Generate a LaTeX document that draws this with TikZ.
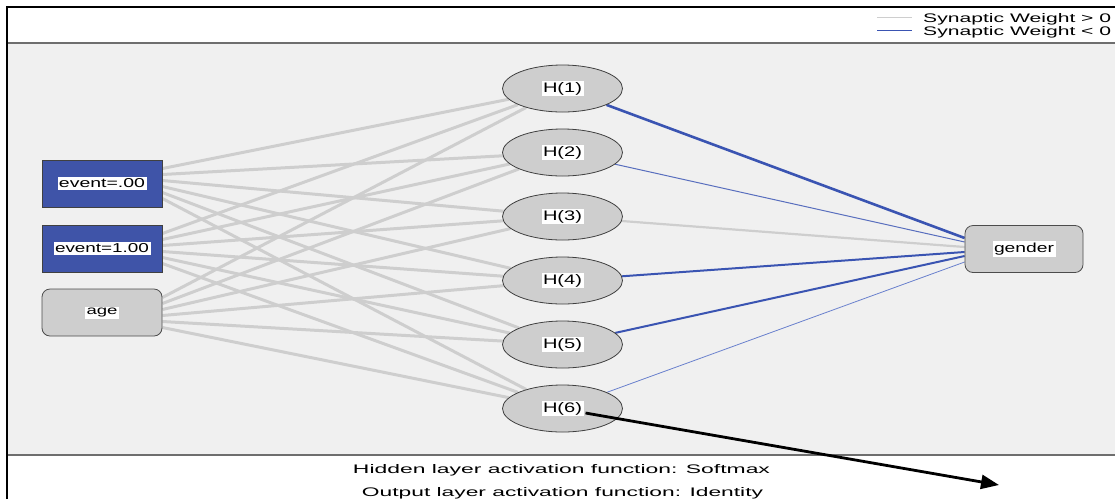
\documentclass[tikz,border=0pt]{standalone}
\usepackage{fontspec}
\setmainfont{Liberation Sans}
\usepackage{graphicx}
\usetikzlibrary{calc,arrows.meta,shapes.geometric}
\definecolor{posw}{RGB}{206,206,206}
\definecolor{negw}{RGB}{58,84,178}
\definecolor{negl}{RGB}{105,128,205}
\definecolor{inblue}{RGB}{63,84,168}
\definecolor{nodegray}{RGB}{206,206,206}
\definecolor{panelgray}{RGB}{240,240,240}
\definecolor{rulegray}{RGB}{110,110,110}
\newcommand\fitt[3]{\resizebox{#1pt}{#2pt}{#3}}
\newcommand\lbl[3]{{\setlength\fboxsep{1.5pt}\colorbox{white}{\fitt{#1}{#2}{#3}}}}
\pgfdeclarelayer{panel}
\pgfdeclarelayer{wires}
\pgfsetlayers{panel,wires,main}
\begin{document}
\begin{tikzpicture}[x=1pt,y=-1pt,
  inbox/.style={draw=black!75,line width=0.8pt,fill=inblue,minimum width=120pt,minimum height=47pt,inner sep=0pt},
  agebox/.style={draw=black!70,line width=0.8pt,fill=nodegray,rounded corners=8pt,minimum width=120pt,minimum height=47pt,inner sep=0pt},
  hid/.style={ellipse,draw=black!75,line width=0.8pt,fill=nodegray,minimum width=120pt,minimum height=47pt,inner sep=0pt},
  posline/.style={draw=posw,line width=3pt},
  negthick/.style={draw=negw,line width=2.6pt},
  negmid/.style={draw=negw,line width=2pt},
  negthin/.style={draw=negw!85,line width=1pt},
  neglight/.style={draw=negl,line width=0.8pt},
  poshid/.style={draw=posw,line width=2.2pt},
  txt/.style={inner sep=0pt,font=\normalsize}
]
\useasboundingbox (0,0) rectangle (1115,499);

% panel
\begin{pgfonlayer}{panel}
\fill[white] (0,0) rectangle (1115,499);
\fill[panelgray] (8,43) rectangle (1116,455);
\draw[rulegray,line width=1.5pt] (8,43) -- (1116,43);
\draw[rulegray,line width=1.5pt] (8,455) -- (1116,455);
\end{pgfonlayer}
% outer frame
\draw[black,line width=2pt] (6.5,499) -- (6.5,7) -- (1116,7);

% legend
\coordinate (lgA1) at (877,17.5);
\coordinate (lgB1) at (912,17.5);
\coordinate (lgA2) at (877,30.5);
\coordinate (lgB2) at (912,30.5);
\draw[posw,line width=1pt] (lgA1) -- (lgB1);
\draw[negw,line width=1.2pt] (lgA2) -- (lgB2);
\node[txt,anchor=base west] (lg1) at (923,22.3) {\fitt{188}{9}{Synaptic Weight > 0}};
\node[txt,anchor=base west] (lg2) at (923,35.3) {\fitt{188}{9}{Synaptic Weight < 0}};

% nodes
\node[inbox] (in1) at (102,183.5) {\lbl{86}{9}{event=.00}};
\node[inbox] (in2) at (102,248.5) {\lbl{94}{9}{event=1.00}};
\node[agebox] (in3) at (102,312.5) {\lbl{31}{6.5}{age}};

\node[hid] (H1) at (562.5,88.5) {\lbl{39}{10}{H(1)}};
\node[hid] (H2) at (562.5,152.5) {\lbl{39}{10}{H(2)}};
\node[hid] (H3) at (562.5,216.5) {\lbl{39}{10}{H(3)}};
\node[hid] (H4) at (562.5,280.5) {\lbl{39}{10}{H(4)}};
\node[hid] (H5) at (562.5,344.5) {\lbl{39}{10}{H(5)}};
\node[hid] (H6) at (562.5,408.5) {\lbl{39}{10}{H(6)}};

\node[agebox,minimum width=118pt] (out) at (1024,249) {\lbl{60}{9.5}{gender}};

% wires
\begin{pgfonlayer}{wires}
\foreach \i in {in1,in2,in3}{
  \foreach \j in {1,...,6}{
    \draw[posline] ($(\i.east)+(0,{(\j-3.5)*6})$) -- (H\j);
  }
}
\draw[negthick] (H1) -- ($(out.west)+(0,-11)$);
\draw[negthin]  (H2) -- ($(out.west)+(0,-7)$);
\draw[poshid]   (H3) -- ($(out.west)+(0,-2)$);
\draw[negmid]   (H4) -- ($(out.west)+(0,3)$);
\draw[negmid]   (H5) -- ($(out.west)+(0,7)$);
\draw[neglight] (H6) -- ($(out.west)+(0,13)$);
\end{pgfonlayer}

% arrow
\coordinate (arS) at ($(H6.center)+(23,4.5)$);
\coordinate (arE) at (999,485);
\draw[black,line width=2.8pt,-{Triangle[length=18pt,width=14pt]}] (arS) -- (arE);

% bottom texts
\node[txt,anchor=base] (t1) at (561.5,473) {\fitt{417}{9}{Hidden layer activation function: Softmax}};
\node[txt,anchor=base] (t2) at (562.5,496.5) {\fitt{401}{9}{Output layer activation function: Identity}};
\end{tikzpicture}
\end{document}
